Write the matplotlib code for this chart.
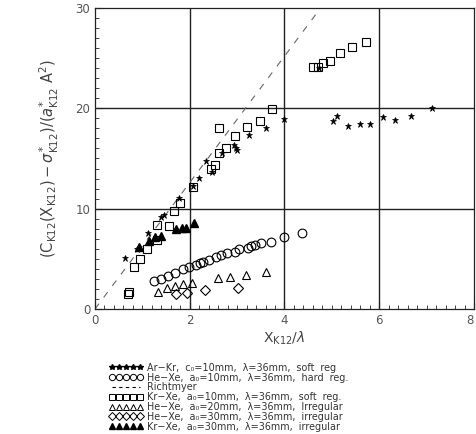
import numpy as np
import matplotlib
matplotlib.use('Agg')
import matplotlib.pyplot as plt
from matplotlib.lines import Line2D

# Ar-Kr, c0=10mm, soft reg
arkr_x = [0.63, 0.89, 1.11, 1.40, 1.45, 1.78, 2.06, 2.20, 2.34, 2.46, 2.69, 2.93, 2.97, 3.00,
          3.25, 3.60, 4.00, 4.72, 5.02, 5.10, 5.35, 5.59, 5.81, 6.07, 6.34, 6.67, 7.11]
arkr_y = [5.1, 6.0, 7.6, 9.2, 9.4, 11.1, 12.3, 13.1, 14.8, 13.7, 15.5, 16.3, 16.0, 15.8,
          17.3, 18.0, 18.9, 24.0, 18.7, 19.2, 18.2, 18.4, 18.4, 19.1, 18.8, 19.2, 20.0]

# He-Xe, a0=10mm, hard reg
hexe10_x = [1.24, 1.40, 1.54, 1.68, 1.85, 1.98, 2.14, 2.21, 2.28, 2.41, 2.55, 2.67, 2.79,
            2.95, 3.05, 3.23, 3.30, 3.37, 3.51, 3.72, 3.99, 4.37]
hexe10_y = [2.8, 3.0, 3.3, 3.6, 4.0, 4.2, 4.4, 4.6, 4.7, 4.9, 5.2, 5.4, 5.6,
            5.7, 6.0, 6.1, 6.3, 6.4, 6.6, 6.7, 7.2, 7.6]

# Kr-Xe, a0=10mm, soft reg
krxe10_x = [0.70, 0.72, 0.82, 0.95, 1.10, 1.30, 1.31, 1.56, 1.66, 1.80, 2.06, 2.44, 2.54,
            2.61, 2.77, 2.62, 2.95, 3.21, 3.49, 3.73, 4.60, 4.70, 4.81, 4.97, 5.17, 5.42, 5.72]
krxe10_y = [1.5, 1.7, 4.2, 5.0, 6.0, 6.9, 8.4, 8.3, 9.8, 10.6, 12.2, 14.0, 14.4,
            15.5, 16.0, 18.0, 17.2, 18.1, 18.7, 19.9, 24.1, 24.1, 24.5, 24.7, 25.5, 26.1, 26.6]

# He-Xe, a0=20mm, irregular
hexe20_x = [1.32, 1.51, 1.68, 1.85, 2.04, 2.60, 2.84, 3.18, 3.61]
hexe20_y = [1.7, 2.1, 2.3, 2.5, 2.6, 3.1, 3.2, 3.4, 3.7]

# He-Xe, a0=30mm, irregular
hexe30_x = [1.70, 1.94, 2.32, 3.02]
hexe30_y = [1.5, 1.6, 1.9, 2.1]

# Kr-Xe, a0=30mm, irregular
krxe30_x = [0.93, 1.14, 1.26, 1.40, 1.72, 1.84, 1.92, 2.08]
krxe30_y = [6.2, 6.8, 7.2, 7.3, 8.0, 8.1, 8.1, 8.6]

# Richtmyer linear growth
richt_x = [0.0, 4.8]
richt_slope = 6.3

fig = plt.figure(figsize=(4.77, 4.34), dpi=100)
ax = fig.add_axes([95/477, 1 - 309/434, 379/477, 301/434])

gray = '#222222'
for gx in [2, 4, 6]:
    ax.axvline(gx, color=gray, lw=1.0, zorder=1)
for gy in [10, 20]:
    ax.axhline(gy, color=gray, lw=1.0, zorder=1)

ry = [richt_slope * v for v in richt_x]
ax.plot(richt_x, ry, color='#666666', lw=0.8, dashes=(6, 7), zorder=2)

ax.plot(arkr_x, arkr_y, ls='none', marker='*', ms=5, mfc='k', mec='k', mew=0.5, zorder=3)
ax.plot(hexe10_x, hexe10_y, ls='none', marker='o', ms=6.3, mfc='none', mec='k', mew=0.8, zorder=3)
ax.plot(krxe10_x, krxe10_y, ls='none', marker='s', ms=6.3, mfc='none', mec='k', mew=0.8, zorder=3)
ax.plot(hexe20_x, hexe20_y, ls='none', marker='^', ms=5.5, mfc='none', mec='k', mew=0.8, zorder=3)
ax.plot(hexe30_x, hexe30_y, ls='none', marker='D', ms=5, mfc='none', mec='k', mew=0.8, zorder=3)
ax.plot(krxe30_x, krxe30_y, ls='none', marker='^', ms=6, mfc='k', mec='k', zorder=3)

ax.set_xlim(0, 8)
ax.set_ylim(0, 30)
ax.set_xticks([0, 2, 4, 6, 8])
ax.set_xticklabels(['0', '2', '4', '6', '8'])
ax.set_yticks([0, 10, 20, 30])
ax.set_xticks(np.arange(0, 8.01, 0.2), minor=True)
ax.set_yticks(np.arange(0, 30.01, 1), minor=True)
ax.tick_params(which='both', direction='in', colors=gray, labelcolor='#555555', labelsize=8.5)
ax.tick_params(which='major', length=5)
ax.tick_params(which='minor', length=3)
ax.get_xticklabels()[-1].set_horizontalalignment('right')
for s in ax.spines.values():
    s.set_color(gray)
    s.set_linewidth(0.9)

ax.set_xlabel(r'$\mathrm{X}_{\mathrm{K12}}/\lambda$', color='#444444', fontsize=10, labelpad=2)
ax.set_ylabel(r'$(\mathrm{C}_{\mathrm{K12}}(\mathrm{X}_{\mathrm{K12}})-\sigma^{*}_{\mathrm{K12}})/(a^{*}_{\mathrm{K12}}\ \mathrm{A}^{2})$',
              color='#444444', fontsize=10.5, labelpad=10)

handles = [
    Line2D([], [], ls='none', marker='*', ms=4, mfc='k', mec='k'),
    Line2D([], [], ls='none', marker='o', ms=4.5, mfc='none', mec='k', mew=0.7),
    Line2D([], [], color='k', lw=0.8, dashes=(3, 3)),
    Line2D([], [], ls='none', marker='s', ms=4.5, mfc='none', mec='k', mew=0.7),
    Line2D([], [], ls='none', marker='^', ms=4.5, mfc='none', mec='k', mew=0.7),
    Line2D([], [], ls='none', marker='D', ms=3.8, mfc='none', mec='k', mew=0.7),
    Line2D([], [], ls='none', marker='^', ms=4.5, mfc='k', mec='k'),
]
labels = [
    'Ar\u2212Kr,  c\u2080=10mm,  \u03bb=36mm,  soft  reg',
    'He\u2212Xe,  a\u2080=10mm,  \u03bb=36mm,  hard  reg.',
    'Richtmyer',
    'Kr\u2212Xe,  a\u2080=10mm,  \u03bb=36mm,  soft  reg.',
    'He\u2212Xe,  a\u2080=20mm,  \u03bb=36mm,  Irregular',
    'He\u2212Xe,  a\u2080=30mm,  \u03bb=36mm,  irregular',
    'Kr\u2212Xe,  a\u2080=30mm,  \u03bb=36mm,  irregular',
]
fig.legend(handles, labels, loc='upper left', bbox_to_anchor=(104/477, 1 - 358/434),
           frameon=False, numpoints=5, handlelength=3.6, handletextpad=0.4,
           labelspacing=-0.02, fontsize=6.9, borderpad=0, labelcolor='#333333')

fig.savefig('out.png', dpi=100)
